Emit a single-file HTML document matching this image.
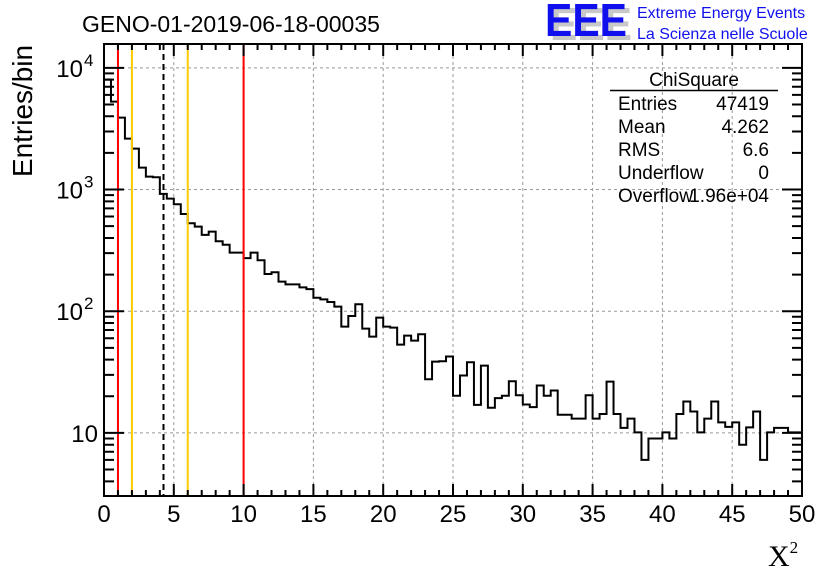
<!DOCTYPE html>
<html><head><meta charset="utf-8"><style>
html,body{margin:0;padding:0;background:#fff}
svg{display:block;font-family:"Liberation Sans",sans-serif}
</style></head><body>
<svg id="c" width="836" height="572" viewBox="0 0 836 572">
<rect width="836" height="572" fill="#fff"/>
<text x="82" y="32" font-size="23">GENO-01-2019-06-18-00035</text>
<g>
<text x="550" y="40" font-size="46" font-weight="bold" fill="#c8c8c8" textLength="82" lengthAdjust="spacingAndGlyphs">EEE</text>
<text x="545" y="36" font-size="46" font-weight="bold" fill="#1010ee" textLength="82" lengthAdjust="spacingAndGlyphs">EEE</text>
<text x="637" y="18" font-size="16" fill="#1010ee">Extreme Energy Events</text>
<text x="637" y="39" font-size="16" fill="#1010ee">La Scienza nelle Scuole</text>
</g>
<g id="grid"></g>
<g id="hist"></g>
<g id="vl"></g>
<g id="axes"></g>
<text transform="translate(32,111) rotate(-90)" font-size="28" text-anchor="middle" textLength="132" lengthAdjust="spacingAndGlyphs">Entries/bin</text>
<text x="768" y="566" font-size="30" font-family="'Liberation Serif',serif">X<tspan font-size="17" dy="-13">2</tspan></text>
<g font-size="19">
<text x="694" y="86" text-anchor="middle">ChiSquare</text>
<line x1="610" y1="90.5" x2="778" y2="90.5" stroke="#000" stroke-width="1.5"/>
<text x="618" y="110">Entries</text><text x="769" y="110" text-anchor="end">47419</text>
<text x="618" y="133">Mean</text><text x="769" y="133" text-anchor="end">4.262</text>
<text x="618" y="156">RMS</text><text x="769" y="156" text-anchor="end">6.6</text>
<text x="618" y="179">Underflow</text><text x="769" y="179" text-anchor="end">0</text>
<text x="618" y="202">Overflow</text><text x="769" y="202" text-anchor="end">1.96e+04</text>
</g>
</svg>
<script>
const binStart = 0, binWidth = 0.5;
const counts = [8000,5275,3900,2620,2170,1514,1276,1262,920,842,757,630,528,496,424,451,376,352,303,303,
273,303,262,202,209,175,166,166,157,152,129,125,119,109,74.7,91.4,114,71.9,61.8,88.5,
74.7,73.3,53.2,63,57.3,64.7,27.6,38.5,38.8,42.4,20.2,29.6,38.1,17,35.7,16.1,19.3,20.2,26.6,20.4,
17.1,16.3,24.5,20.2,22.3,14.1,14.1,13.1,13.1,20.4,13.1,14.3,26.4,14.3,11,13.1,10.1,6,9,9,
10.1,9,14.3,18.1,15,10.1,13.1,18.1,12.2,11.2,12.2,8,11.1,15,6,10.1,11,11,10.1,10.1];
const xTicks = [0,5,10,15,20,25,30,35,40,45,50];
const yDecades = [10,100,1000,10000];
const yExps = ["","2","3","4"];
const refLines = [1,2,4.262,6,10];
const refColors = ["#ff0000","#ffcc00","#000","#ffcc00","#ff0000"];

const L=104,R=802,T=44,B=496, yMin=3.03, yMax=15700;
const X=v=>L+(v-0)/(50-0)*(R-L);
const Y=v=>B-(Math.log10(v)-Math.log10(yMin))/(Math.log10(yMax)-Math.log10(yMin))*(B-T);
const NS="http://www.w3.org/2000/svg";
function mk(tag,attrs,parent){const e=document.createElementNS(NS,tag);for(const k in attrs)e.setAttribute(k,attrs[k]);parent.appendChild(e);return e;}
const grid=document.getElementById('grid'),hist=document.getElementById('hist'),vl=document.getElementById('vl'),axes=document.getElementById('axes');
xTicks.forEach(t=>{if(t>0&&t<50){const l=mk('line',{x1:X(t),x2:X(t),y1:T,y2:B,stroke:'#999','stroke-dasharray':'3,3'},grid);

}});
yDecades.forEach(d=>{const l=mk('line',{x1:L,x2:R,y1:Y(d),y2:Y(d),stroke:'#999','stroke-dasharray':'3,3'},grid);

});
let p='M'+X(binStart)+','+B;
counts.forEach((c,i)=>{const y=Math.min(B,Math.max(T,Y(c)));p+=' L'+X(binStart+i*binWidth)+','+y+' L'+X(binStart+(i+1)*binWidth)+','+y;});
p+=' L'+X(binStart+counts.length*binWidth)+','+B;
const hp=mk('path',{d:p,fill:'none',stroke:'#000','stroke-width':2},hist);


refLines.forEach((v,i)=>{const l=mk('line',{x1:X(v),x2:X(v),y1:T,y2:B,stroke:refColors[i],'stroke-width':2},vl);
if(i==2)l.setAttribute('stroke-dasharray','6,4');

});
const fr=mk('rect',{x:L,y:T,width:R-L,height:B-T,fill:'none',stroke:'#000','stroke-width':2},axes);


let tp='';
for(let v=0;v<=50;v++){const len=v%5==0?12:6;tp+=`M${X(v)},${B}v${-len}M${X(v)},${T}v${len}`;}
for(let e=0;e<=4;e++){for(let m=1;m<10;m++){const v=m*Math.pow(10,e);if(v<yMin||v>yMax)continue;const len=m==1?20:10;tp+=`M${L},${Y(v)}h${len}M${R},${Y(v)}h${-len}`;}}
const tk=mk('path',{d:tp,stroke:'#000','stroke-width':2,fill:'none'},axes);


xTicks.forEach(t=>{const tx=mk('text',{x:X(t),y:522,'font-size':24,'text-anchor':'middle'},axes);tx.textContent=t;

});
yDecades.forEach((d,i)=>{
const tx=mk('text',{x:yExps[i]?83:98,y:Y(d)+9,'font-size':24,'text-anchor':'end'},axes);tx.textContent='10';


if(yExps[i]){const sx=mk('text',{x:84,y:Y(d)-2,'font-size':17},axes);sx.textContent=yExps[i];

}
});
</script>
</body></html>
